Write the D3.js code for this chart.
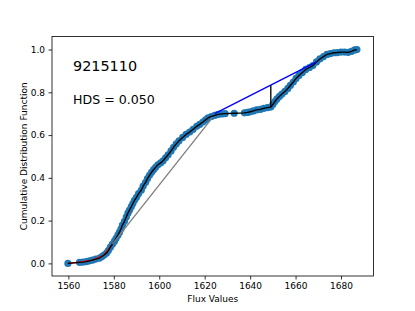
<!DOCTYPE html>
<html>
<head>
<meta charset="utf-8">
<script src="https://d3js.org/d3.v7.min.js"></script>
<style>
  body { margin: 0; background: #fff; }
  text { font-family: "DejaVu Sans", sans-serif; fill: #000; }
</style>
</head>
<body>
<svg width="415" height="311"></svg>
<script>
// sorted flux values and their cumulative distribution
const flux = [1559.8, 1564.9, 1566.4, 1567.9, 1569.3, 1570.6, 1572.1, 1573.7, 1574.8, 1575.7,
  1576.8, 1577.6, 1578.5, 1579.4, 1580.3, 1581.0, 1581.8, 1582.5, 1583.2, 1583.8,
  1584.7, 1585.5, 1586.2, 1586.9, 1587.7, 1588.4, 1589.1, 1590.0, 1590.9, 1592.1,
  1592.9, 1594.0, 1594.8, 1595.7, 1596.6, 1597.5, 1598.4, 1599.4, 1600.6, 1601.7,
  1602.8, 1603.9, 1605.2, 1606.3, 1607.5, 1608.7, 1610.3, 1611.8, 1613.4, 1614.9,
  1616.5, 1617.8, 1619.2, 1620.4, 1621.5, 1622.9, 1624.4, 1625.9, 1627.5, 1629.0,
  1633.0, 1637.5, 1638.8, 1640.0, 1641.4, 1642.9, 1644.5, 1646.0, 1647.6,
  1649.1, 1650.0, 1650.9, 1651.8, 1652.9, 1654.0, 1655.3, 1656.6, 1657.7, 1659.0,
  1660.2, 1661.5, 1663.0, 1664.5, 1666.1, 1667.6, 1669.2, 1670.7, 1672.3, 1673.8,
  1675.3, 1676.9, 1678.4, 1680.0, 1681.5, 1683.1, 1684.6, 1686.0, 1687.0];
const cdf = [0.000, 0.005, 0.006, 0.008, 0.012, 0.015, 0.020, 0.025, 0.032, 0.039,
  0.048, 0.060, 0.076, 0.090, 0.104, 0.117, 0.132, 0.146, 0.162, 0.179,
  0.197, 0.217, 0.235, 0.249, 0.265, 0.280, 0.295, 0.309, 0.326, 0.342,
  0.361, 0.379, 0.396, 0.412, 0.426, 0.438, 0.449, 0.461, 0.470, 0.480,
  0.494, 0.508, 0.526, 0.543, 0.559, 0.573, 0.589, 0.603, 0.614, 0.627,
  0.641, 0.650, 0.661, 0.671, 0.680, 0.687, 0.692, 0.697, 0.699, 0.700,
  0.702, 0.704, 0.706, 0.709, 0.713, 0.718, 0.720, 0.725, 0.728,
  0.731, 0.743, 0.757, 0.769, 0.781, 0.792, 0.804, 0.818, 0.832, 0.848,
  0.865, 0.879, 0.893, 0.907, 0.916, 0.925, 0.942, 0.956, 0.967, 0.977,
  0.981, 0.985, 0.986, 0.988, 0.988, 0.987, 0.991, 0.998, 1.000];

// hull pieces and dip segment
const redFlux = [1559.8, 1564.9, 1570.6, 1575.7, 1579.4];
const redCdf = [0.000, 0.005, 0.015, 0.039, 0.090];
const grayFlux = [1579.4, 1623.5];
const grayCdf = [0.090, 0.683];
const blueFlux = [1624.4, 1669.2];
const blueCdf = [0.700, 0.942];
const dipFlux = [1649.1, 1649.1];
const dipCdf = [0.731, 0.833];

const xTicks = [1560, 1580, 1600, 1620, 1640, 1660, 1680];
const yTicks = [0.0, 0.2, 0.4, 0.6, 0.8, 1.0];
const idLabel = "9215110";
const hdsLabel = "HDS = 0.050";

const svg = d3.select("svg");
const mLeft = 52, mRight = 373.5, mTop = 36.5, mBottom = 276;

const xs = d3.scaleLinear().domain([1552.8, 1694.3]).range([mLeft, mRight]);
const ys = d3.scaleLinear().domain([-0.059, 1.061]).range([mBottom, mTop]);

const pts = flux.map((f, i) => [f, cdf[i]]);
const line = d3.line().x(d => xs(d[0])).y(d => ys(d[1]));
const zip = (a, b) => a.map((v, i) => [v, b[i]]);

// markers
svg.append("g")
  .selectAll("circle")
  .data(pts)
  .enter()
  .append("circle")
    .attr("cx", d => xs(d[0]))
    .attr("cy", d => ys(d[1]))
    .attr("r", 3.6)
    .style("fill", "#1f77b4");

// red lower hull
svg.append("path")
  .attr("d", line(zip(redFlux, redCdf)))
  .style("fill", "none").style("stroke", "red").style("stroke-width", 1.4);

// data line
svg.append("path")
  .attr("d", line(pts))
  .style("fill", "none").style("stroke", "black").style("stroke-width", 1.35)
  .style("stroke-linejoin", "round");

svg.append("path")
  .attr("d", line(zip(grayFlux, grayCdf)))
  .style("fill", "none").style("stroke", "gray").style("stroke-width", 1.35);

svg.append("path")
  .attr("d", line(zip(blueFlux, blueCdf)))
  .style("fill", "none").style("stroke", "blue").style("stroke-width", 1.35);

svg.append("path")
  .attr("d", line(zip(dipFlux, dipCdf)))
  .style("fill", "none").style("stroke", "black").style("stroke-width", 1.35);

// axes
const xAxis = svg.append("g")
  .attr("transform", "translate(0," + mBottom + ")")
  .call(d3.axisBottom(xs).tickValues(xTicks).tickSize(3.5).tickPadding(3.5).tickFormat(d3.format("d")));
const yAxis = svg.append("g")
  .attr("transform", "translate(" + mLeft + ",0)")
  .call(d3.axisLeft(ys).tickValues(yTicks).tickSize(3.5).tickPadding(3.5).tickFormat(d3.format(".1f")));
[xAxis, yAxis].forEach(a => {
  a.select(".domain").remove();
  a.selectAll("line").style("stroke", "black").style("stroke-width", 0.8);
  a.selectAll("text").style("font-family", "DejaVu Sans").style("font-size", "9px");
});

// frame
svg.append("rect")
  .attr("x", mLeft).attr("y", mTop)
  .attr("width", mRight - mLeft).attr("height", mBottom - mTop)
  .style("fill", "none").style("stroke", "black").style("stroke-width", 0.8);

// labels
svg.append("text")
  .attr("x", (mLeft + mRight) / 2).attr("y", 302)
  .style("text-anchor", "middle").style("font-size", "9px")
  .text("Flux Values");
svg.append("text")
  .attr("transform", "rotate(-90)")
  .attr("x", -(mTop + mBottom) / 2).attr("y", 26.5)
  .style("text-anchor", "middle").style("font-size", "9px")
  .text("Cumulative Distribution Function");

svg.append("text")
  .attr("x", 73).attr("y", 71)
  .style("font-size", "14.4px")
  .text(idLabel);
svg.append("text")
  .attr("x", 73).attr("y", 103.5)
  .style("font-size", "12.6px")
  .text(hdsLabel);
</script>
</body>
</html>
